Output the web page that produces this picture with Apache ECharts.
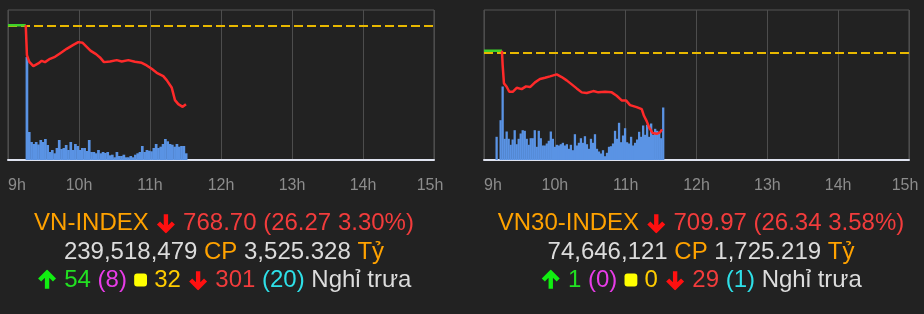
<!DOCTYPE html>
<html>
<head>
<meta charset="utf-8">
<script src="https://cdn.jsdelivr.net/npm/echarts@6/dist/echarts.min.js"></script>
<style>
html,body{margin:0;padding:0;background:#222222;}
#c{width:924px;height:314px;}
</style>
</head>
<body>
<div id="c"></div>
<script>
// ---------- data ----------
const hourLabels = ['9h','10h','11h','12h','13h','14h','15h'];

// VN-INDEX (minutes after 9:00)
const vnRef = 794.97;
const vnPreTimes = [0, 15];
const vnPrePrices = [795.3, 795.3];
const vnTimes = [15, 16, 18, 21.4, 25.6, 28.5, 31.3, 35.5, 39.7, 43.9, 49.6, 55.2, 59.4, 63.1, 66.5, 69.9, 74.4, 77.7, 81.1, 86.2, 91.9, 96.1, 101.7, 107.3, 113.0, 117.2, 121.4, 125.7, 131.2, 134.1, 138.3, 141.1, 143.9, 147.6, 150.4];
const vnPrices = [795.3, 785.2, 782.95, 781.5, 782.4, 783.3, 782.85, 783.96, 784.63, 785.78, 787.33, 788.67, 789.58, 789.35, 788.0, 786.65, 785.54, 784.43, 782.85, 783.08, 783.52, 783.08, 783.52, 782.95, 782.61, 781.74, 780.59, 779.25, 778.14, 776.79, 774.33, 770.05, 768.7, 767.8, 768.70];
const vnVolStart = 16, vnVolStep = 1.95;
const vnVolumes = [103, 28, 18, 16, 18, 15.5, 20, 18, 21, 15, 8, 10, 6.7, 12, 20, 11, 12, 15, 10, 18, 10, 16, 14, 10, 12, 12, 9, 20, 8, 8, 6.7, 10, 6.7, 8, 7, 8, 4.7, 5.3, 2.7, 8, 4, 4, 5.3, 2.7, 2.7, 4, 2.7, 5.3, 6.7, 8, 14, 8, 10, 9.3, 8.7, 12, 16, 12, 13.3, 16, 21, 18.7, 16, 15.3, 13.3, 16, 13.3, 14, 14, 6.7];

// VN30-INDEX
const vn30Ref = 736.31;
const vn30PreTimes = [0, 15.2];
const vn30PrePrices = [736.86, 736.86];
const vn30Times = [15.2, 15.8, 16.9, 19.2, 21.4, 24.3, 27.7, 31.9, 35.6, 39.0, 43.2, 47.4, 51.7, 55.9, 61.6, 65.8, 70.0, 74.3, 78.5, 82.8, 87.0, 92.6, 96.8, 102.5, 108.2, 112.4, 116.6, 120.3, 123.7, 129.3, 133.6, 135.5, 137.8, 140.0, 142.9, 146.3, 149.1, 150.8];
const vn30Prices = [736.86, 731.96, 725.7, 724.54, 722.83, 722.83, 724.2, 723.75, 724.68, 724.44, 726.05, 727.18, 727.62, 728.1, 728.78, 727.86, 726.73, 725.36, 723.99, 722.63, 722.39, 723.07, 722.63, 722.83, 722.63, 721.46, 719.89, 719.89, 718.28, 717.6, 716.91, 714.62, 712.81, 710.52, 708.7, 708.46, 708.94, 709.97];
const vn30VolStart = 10.7, vn30VolStep = 1.7;
const vn30Volumes = [23.2, 0, 39.8, 73.5, 21.2, 28.5, 21.2, 15.2, 20.5, 29.8, 15.8, 21.2, 26.5, 29.8, 29.2, 21.2, 15.2, 21.8, 21.8, 29.8, 13.2, 29.2, 21.8, 14.5, 14.5, 16.5, 19.2, 28.5, 21.2, 13.2, 15.2, 14.5, 15.8, 17.2, 14.5, 15.8, 11.2, 15.2, 9.8, 25.8, 14.5, 17.2, 21.8, 17.2, 23.8, 15.8, 11.2, 21.2, 17.2, 25.8, 11.2, 8.5, 6.5, 9.8, 3.8, 7.2, 13.2, 13.8, 16.5, 29.2, 21.2, 37.2, 17.8, 24.5, 31.8, 17.8, 16.5, 23.2, 14.5, 17.2, 20.5, 28.2, 23.2, 34.5, 25.2, 35.2, 23.2, 36.5, 25.2, 31.2, 29.2, 27.2, 21.8, 52.5];

// Info texts
const vnInfo1 = ['VN-INDEX', '768.70', '26.27', '3.30%'];
const vnInfo2 = ['239,518,479', 'CP', '3,525.328', 'Tỷ'];
const vnInfo3 = ['54', '(8)', '32', '301', '(20)', 'Nghỉ trưa'];
const vn30Info1 = ['VN30-INDEX', '709.97', '26.34', '3.58%'];
const vn30Info2 = ['74,646,121', 'CP', '1,725.219', 'Tỷ'];
const vn30Info3 = ['1', '(0)', '0', '29', '(1)', 'Nghỉ trưa'];

// ---------- helpers ----------
const zip = (a, b) => a.map((v, i) => [v, b[i]]);
const volData = (start, step, vols) => vols.map((v, i) => [start + i * step, v]);

function arrowSvg(color, up) {
  const p = up ? 'M12 22 V4 M3.5 12 L12 3.5 L20.5 12' : 'M12 2 V20 M3.5 12 L12 20.5 L20.5 12';
  const svg = `<svg xmlns="http://www.w3.org/2000/svg" width="24" height="24" viewBox="0 0 24 24"><path d="${p}" fill="none" stroke="${color}" stroke-width="5" stroke-linejoin="miter"/></svg>`;
  return 'data:image/svg+xml;charset=utf-8,' + encodeURIComponent(svg);
}
const sqSvg = 'data:image/svg+xml;charset=utf-8,' + encodeURIComponent('<svg xmlns="http://www.w3.org/2000/svg" width="24" height="24" viewBox="0 0 24 24"><rect x="1" y="1" width="22" height="22" rx="5" fill="#ffff00"/></svg>');

const FONT = '"Liberation Sans", Arial, Helvetica, sans-serif';
const FS = 24;
const rich = {
  o: {fill: '#ffa200', fontSize: FS, fontFamily: FONT},
  r: {fill: '#f23c3c', fontSize: FS, fontFamily: FONT},
  w: {fill: '#dcdcdc', fontSize: FS, fontFamily: FONT},
  g: {fill: '#22e022', fontSize: FS, fontFamily: FONT},
  m: {fill: '#e83ce8', fontSize: FS, fontFamily: FONT},
  y: {fill: '#ffcc00', fontSize: FS, fontFamily: FONT},
  c: {fill: '#2ee0e8', fontSize: FS, fontFamily: FONT},
  dn: {width: 21, height: 21, backgroundColor: {image: arrowSvg('#ff1010', false)}},
  up: {width: 21, height: 21, backgroundColor: {image: arrowSvg('#11ee11', true)}},
  sq: {width: 14, height: 14, backgroundColor: {image: sqSvg}}
};

function infoTexts(cx, i1, i2, i3) {
  const base = {fontFamily: FONT, fontSize: FS, align: 'center', verticalAlign: 'middle', rich: rich};
  return [
    {type: 'text', x: cx, y: 223, style: Object.assign({}, base, {text: `{o|${i1[0]}} {dn|} {r|${i1[1]} (${i1[2]} ${i1[3]})}`})},
    {type: 'text', x: cx, y: 252, style: Object.assign({}, base, {text: `{w|${i2[0]}} {o|${i2[1]}} {w|${i2[2]}} {o|${i2[3]}}`})},
    {type: 'text', x: cx, y: 280, style: Object.assign({}, base, {text: `{up|} {g|${i3[0]}} {m|${i3[1]}} {sq|} {y|${i3[2]}} {dn|} {r|${i3[3]}} {c|${i3[4]}} {w|${i3[5]}}`})}
  ];
}

function xAxis(gi) {
  return {
    type: 'value', gridIndex: gi, min: 0, max: 360, interval: 60,
    axisLine: {show: true, lineStyle: {color: '#dfe3f0', width: 2}},
    axisTick: {show: false},
    splitLine: {show: true, lineStyle: {color: '#4d4d4d', width: 1}},
    axisLabel: {
      color: '#8c8c8c', fontSize: 16, fontFamily: FONT, margin: 18,
      alignMinLabel: 'left',
      formatter: v => { const s = hourLabels[Math.round(v / 60)]; return v === 360 ? '{mx|' + s + '}' : s; },
      rich: {mx: {color: '#8c8c8c', fontSize: 16, fontFamily: FONT, padding: [0, 8, 0, 0]}}
    }
  };
}
function priceAxis(gi, min, max) {
  return {type: 'value', gridIndex: gi, min: min, max: max, show: false, splitLine: {show: false}};
}
function volAxis(gi) {
  return {type: 'value', gridIndex: gi, min: 0, max: 150, show: false, splitLine: {show: false}};
}
function seriesFor(ax, preT, preP, t, p, vStart, vStep, vols, ref, bw) {
  return [
    {type: 'bar', xAxisIndex: ax, yAxisIndex: ax * 2 + 1, data: volData(vStart, vStep, vols),
     barWidth: bw, itemStyle: {color: '#5a93e4'}, silent: true, z: 1},
    {type: 'line', xAxisIndex: ax, yAxisIndex: ax * 2, data: zip(preT, preP), symbol: 'none',
     lineStyle: {color: '#3fd22a', width: 2.5}, silent: true, z: 3,
     markLine: {silent: true, symbol: 'none', label: {show: false},
       lineStyle: {color: '#e8b800', type: [9, 4], width: 2}, data: [{yAxis: ref}], z: 2}},
    {type: 'line', xAxisIndex: ax, yAxisIndex: ax * 2, data: zip(t, p), symbol: 'none',
     lineStyle: {color: '#ff2a2a', width: 2.5}, silent: true, z: 4}
  ];
}

const chart = echarts.init(document.getElementById('c'), null, {renderer: 'canvas'});
chart.setOption({
  backgroundColor: '#222222',
  animation: false,
  grid: [
    {left: 8, top: 10, width: 426, height: 150, show: true, borderColor: '#555555', borderWidth: 1, backgroundColor: 'transparent'},
    {left: 484, top: 10, width: 425, height: 150, show: true, borderColor: '#555555', borderWidth: 1, backgroundColor: 'transparent'}
  ],
  xAxis: [xAxis(0), xAxis(1)],
  yAxis: [priceAxis(0, 749.9, 800.4), volAxis(0), priceAxis(1, 699.5, 750.8), volAxis(1)],
  series: [].concat(
    seriesFor(0, vnPreTimes, vnPrePrices, vnTimes, vnPrices, vnVolStart, vnVolStep, vnVolumes, vnRef, 2.7),
    seriesFor(1, vn30PreTimes, vn30PrePrices, vn30Times, vn30Prices, vn30VolStart, vn30VolStep, vn30Volumes, vn30Ref, 2.3)
  ),
  graphic: [].concat(infoTexts(224, vnInfo1, vnInfo2, vnInfo3), infoTexts(701, vn30Info1, vn30Info2, vn30Info3))
});
</script>
</body>
</html>
